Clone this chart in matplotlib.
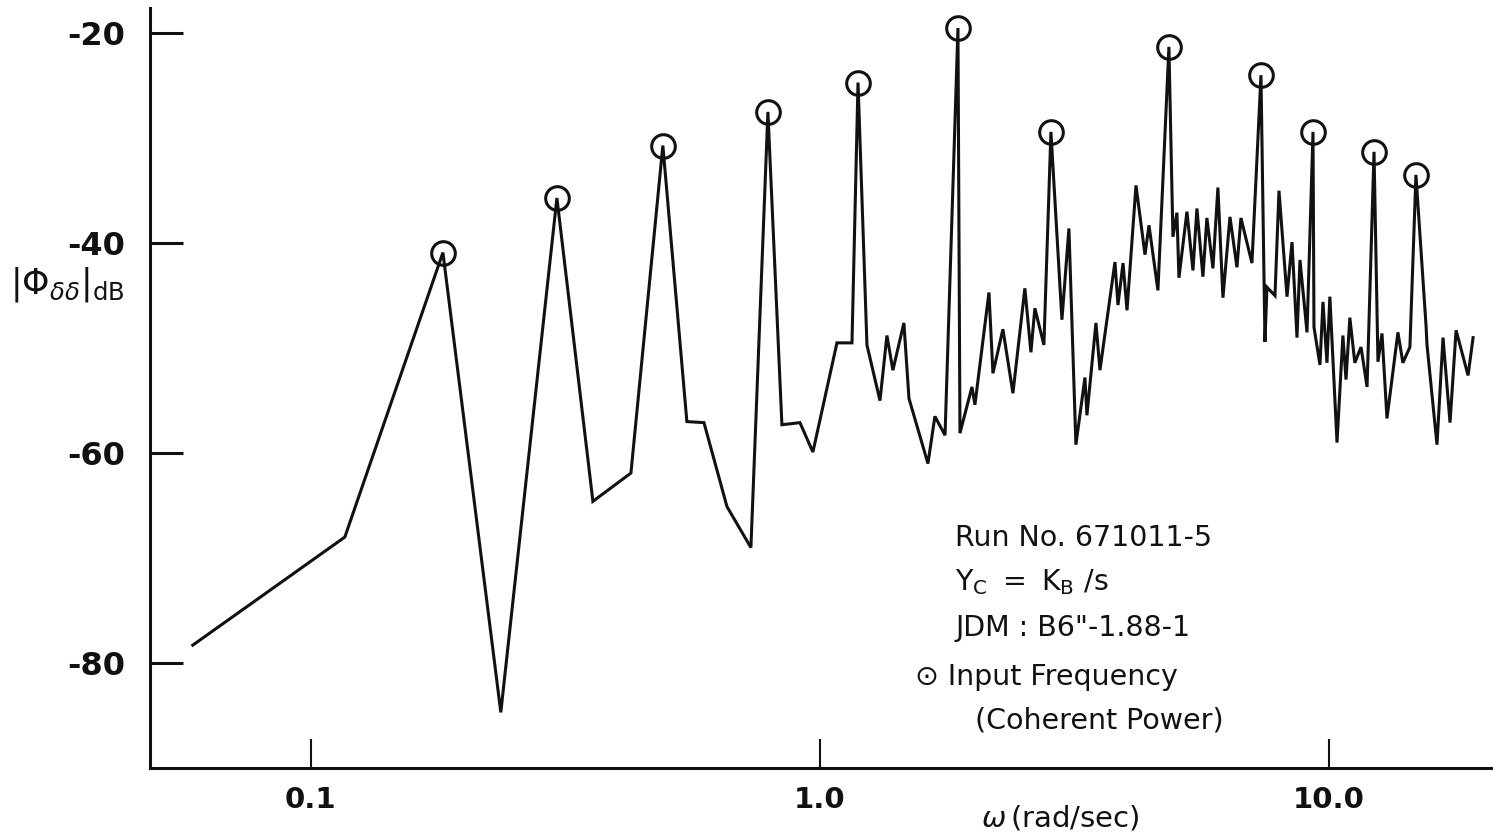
import matplotlib
matplotlib.use("Agg")
import matplotlib.pyplot as plt

# spectrum |Phi_dd| (dB) vs omega (rad/sec)
omega = [0.0586, 0.1166, 0.1817, 0.2361, 0.3043, 0.3581, 0.4253, 0.4914,
         0.5478, 0.5918, 0.6567, 0.7318, 0.7903, 0.8420, 0.9135, 0.9687,
         1.080, 1.156, 1.188, 1.237, 1.312, 1.354, 1.391, 1.462, 1.496,
         1.630, 1.682, 1.761, 1.867, 1.884, 1.989, 2.016, 2.148, 2.187,
         2.288, 2.394, 2.527, 2.597, 2.644, 2.754, 2.843, 2.988, 3.084,
         3.183, 3.316, 3.346, 3.485, 3.549, 3.798, 3.850, 3.939, 4.011,
         4.177, 4.351, 4.430, 4.613, 4.848, 4.937, 5.027, 5.073, 5.260,
         5.405, 5.503, 5.654, 5.757, 5.916, 6.051, 6.190, 6.390, 6.595,
         6.715, 7.058, 7.352, 7.486, 7.554, 7.833, 7.976, 8.271, 8.460,
         8.653, 8.770, 9.054, 9.303, 9.344, 9.600, 9.732, 9.909, 10.04,
         10.37, 10.65, 10.80, 10.99, 11.24, 11.56, 11.88, 12.26, 12.48,
         12.71, 13.00, 13.66, 13.97, 14.42, 14.82, 15.51, 15.58, 16.30,
         16.75, 17.29, 17.77, 18.76, 19.19]
phi_db = [-78.3, -68.0, -40.9, -84.7, -35.7, -64.6, -61.9, -30.7,
          -57.0, -57.1, -65.1, -69.0, -27.5, -57.3, -57.1, -59.9,
          -49.5, -49.5, -24.7, -49.7, -55.0, -48.8, -52.1, -47.6, -54.8,
          -61.0, -56.5, -58.3, -19.5, -58.1, -53.7, -55.4, -44.7, -52.4,
          -48.2, -54.3, -44.3, -50.4, -46.2, -49.7, -29.4, -47.3, -38.6,
          -59.2, -52.8, -56.4, -47.6, -52.1, -41.8, -45.9, -41.9, -46.4,
          -34.5, -41.1, -38.3, -44.5, -21.3, -39.4, -37.1, -43.3, -37.0,
          -42.6, -36.7, -43.2, -37.6, -42.4, -34.7, -45.2, -37.5, -42.3,
          -37.6, -41.9, -24.0, -49.4, -44.2, -45.0, -35.0, -45.1, -39.9,
          -49.0, -41.6, -48.5, -29.4, -48.0, -51.6, -45.6, -51.4, -45.1,
          -59.0, -48.8, -53.0, -47.1, -51.4, -49.9, -53.7, -31.3, -51.3,
          -48.6, -56.7, -48.5, -51.4, -49.9, -33.5, -47.8, -49.7, -59.2,
          -49.0, -57.1, -48.3, -52.6, -49.0]

# input frequencies (coherent power)
omega_in = [0.1817, 0.3043, 0.4914, 0.7903, 1.188, 1.867, 2.843, 4.848,
            7.352, 9.303, 12.26, 14.82]
phi_in = [-40.9, -35.7, -30.7, -27.5, -24.7, -19.5, -29.4, -21.3,
          -24.0, -29.4, -31.3, -33.5]

xticks = [0.1, 1.0, 10.0]
xticklabels = ["0.1", "1.0", "10.0"]
yticks = [-80, -60, -40, -20]

plt.rcParams["font.family"] = ["DejaVu Sans"]
plt.rcParams["mathtext.fontset"] = "dejavusans"

ink = "#111111"
W, H = 1493, 835
fig = plt.figure(figsize=(W / 100, H / 100), dpi=100)
fig.patch.set_facecolor("white")
ax = fig.add_axes([150 / W, 67 / H, 1343 / W, 760 / H])

ax.plot(omega, phi_db, color=ink, lw=2.2, solid_joinstyle="miter")
ax.plot(omega_in, phi_in, "o", ms=17, mfc="none", mec=ink, mew=2.2)

ax.set_xscale("log")
ax.set_xlim(0.0483, 21.0)
ax.set_ylim(-90, -17.6)
ax.set_xticks(xticks)
ax.set_xticklabels(xticklabels)
ax.xaxis.set_minor_locator(matplotlib.ticker.NullLocator())
ax.set_yticks(yticks)
ax.set_yticklabels([str(v) for v in yticks])

for s in ["top", "right"]:
    ax.spines[s].set_visible(False)
for s in ["left", "bottom"]:
    ax.spines[s].set_linewidth(2.2)
    ax.spines[s].set_color(ink)

ax.tick_params(axis="x", direction="in", length=21, width=1.5, pad=13,
               labelsize=21, colors=ink)
ax.tick_params(axis="y", direction="in", length=24, width=2.2, pad=18,
               labelsize=23, colors=ink)
for lab in ax.get_yticklabels() + ax.get_xticklabels():
    lab.set_fontweight("bold")


def fy(y):
    # pixel row from the top -> figure fraction
    return 1 - y / H


fig.text(1060 / W, fy(818), r"$\omega\,$(rad/sec)", ha="center",
         va="center", fontsize=21, color=ink)
fig.text(10 / W, fy(284), r"$|\Phi_{\delta\delta}|_{\mathregular{dB}}$",
         ha="left", va="center", fontsize=25, color=ink)

tx = 955 / W
fs = 20.5
fig.text(tx, fy(538), "Run No. 671011-5", va="center", fontsize=fs, color=ink)
fig.text(tx, fy(582), r"$\mathregular{Y_C\ =\ K_B\ /s}$", va="center",
         fontsize=fs, color=ink)
fig.text(tx, fy(628), 'JDM : B6"-1.88-1', va="center", fontsize=fs, color=ink)
fig.text(915 / W, fy(677), "\u2299 Input Frequency", va="center",
         fontsize=fs, color=ink)
fig.text(975 / W, fy(720), "(Coherent Power)", va="center",
         fontsize=fs, color=ink)

fig.savefig("out.png", dpi=100, facecolor="white")
